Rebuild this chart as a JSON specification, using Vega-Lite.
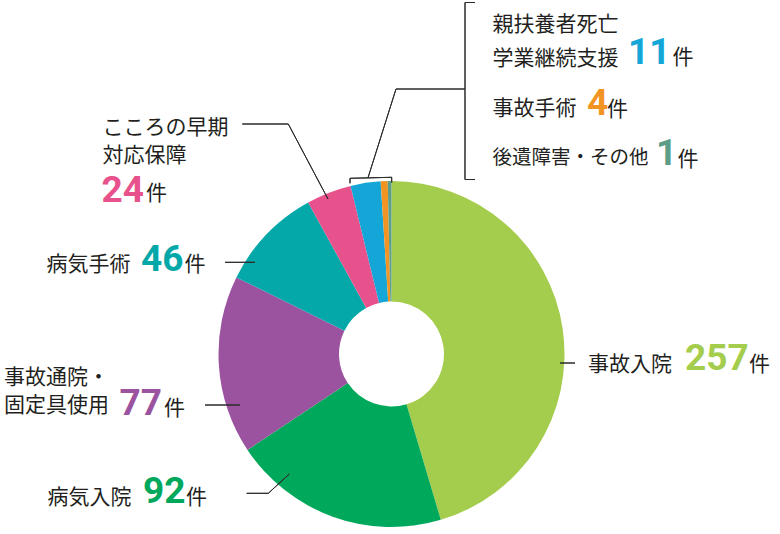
{
  "$schema": "https://vega.github.io/schema/vega-lite/v6.json",
  "autosize": {"type": "none"},
  "width": 777,
  "height": 360,
  "padding": {"left": 3, "top": 174, "right": 0, "bottom": 0},
  "background": "white",
  "config": {"view": {"stroke": null}},
  "data": {
    "values": [
      {"order": 1, "category": "事故入院", "name": "事故入院", "count": 257, "share": 45.4},
      {"order": 2, "category": "病気入院", "name": "病気入院", "count": 92, "share": 20.25},
      {"order": 3, "category": "事故通院・固定具使用", "name": "事故通院・\n固定具使用", "count": 77, "share": 16.65},
      {"order": 4, "category": "病気手術", "name": "病気手術", "count": 46, "share": 9.7},
      {"order": 5, "category": "こころの早期対応保障", "name": "こころの早期\n対応保障", "count": 24, "share": 4.2},
      {"order": 6, "category": "親扶養者死亡学業継続支援", "name": "親扶養者死亡\n学業継続支援", "count": 11, "share": 2.8},
      {"order": 7, "category": "事故手術", "name": "事故手術", "count": 4, "share": 0.65},
      {"order": 8, "category": "後遺障害・その他", "name": "後遺障害・その他", "count": 1, "share": 0.35}
    ]
  },
  "layer": [
    {
      "mark": {"type": "arc", "innerRadius": 52.5, "outerRadius": 173},
      "encoding": {
        "theta": {"field": "share", "type": "quantitative", "stack": true},
        "order": {"field": "order", "type": "quantitative"},
        "color": {
          "field": "category",
          "type": "nominal",
          "legend": null,
          "scale": {
            "domain": ["事故入院", "病気入院", "事故通院・固定具使用", "病気手術", "こころの早期対応保障", "親扶養者死亡学業継続支援", "事故手術", "後遺障害・その他"],
            "range": ["#a5cd4d", "#00a85b", "#9b53a0", "#05a8a9", "#e8528c", "#13a6d7", "#f29423", "#5c9e88"]
          }
        }
      }
    },
    {
      "mark": {
        "type": "arc",
        "filled": false,
        "stroke": "#2b2b2b",
        "strokeWidth": 1,
        "xOffset": {"expr": "[168.5,-144.8,-186.5,-166.5,-149.2,-41.5,-23.5,73.5][datum.order-1]"},
        "yOffset": {"expr": "[9,139.3,51,-91.7,-230,-175.7,-176.2,-351.5][datum.order-1]"},
        "theta": {"expr": "[1.5708,1.5708,1.5708,1.5708,1.5708,1.5468,0.3054,3.1416][datum.order-1]"},
        "theta2": {"expr": "[1.5708,1.5708,1.5708,1.5708,1.5708,1.5468,0.3054,3.1416][datum.order-1]"},
        "radius": {"expr": "[15,21.6,35,30,46,41.7,93.1,177][datum.order-1]"},
        "radius2": 0
      },
      "encoding": {}
    },
    {
      "transform": [{"filter": "indexof([2,5,6,7,8], datum.order) >= 0"}],
      "mark": {
        "type": "arc",
        "filled": false,
        "stroke": "#2b2b2b",
        "strokeWidth": 1,
        "xOffset": {"expr": "[0,-123.2,0,0,-103.2,-41.5,4.5,73.5][datum.order-1]"},
        "yOffset": {"expr": "[0,139.3,0,0,-230,-175.7,-265,-351.5][datum.order-1]"},
        "theta": {"expr": "[0,0.8275,0,0,2.6549,3.1416,1.5708,1.5708][datum.order-1]"},
        "theta2": {"expr": "[0,0.8275,0,0,2.6549,3.1416,1.5708,1.5708][datum.order-1]"},
        "radius": {"expr": "[0,28.5,0,0,84.9,5,69,10][datum.order-1]"},
        "radius2": 0
      },
      "encoding": {}
    },
    {
      "transform": [{"filter": "datum.order == 6 || datum.order == 8"}],
      "mark": {
        "type": "arc",
        "filled": false,
        "stroke": "#2b2b2b",
        "strokeWidth": 1,
        "xOffset": {"expr": "[0,0,0,0,0,0.2,0,73.5][datum.order-1]"},
        "yOffset": {"expr": "[0,0,0,0,0,-176.7,0,-174.5][datum.order-1]"},
        "theta": {"expr": "[0,0,0,0,0,3.1416,0,1.5708][datum.order-1]"},
        "theta2": {"expr": "[0,0,0,0,0,3.1416,0,1.5708][datum.order-1]"},
        "radius": {"expr": "[0,0,0,0,0,5.2,0,10][datum.order-1]"},
        "radius2": 0
      },
      "encoding": {}
    },
    {
      "mark": {
        "type": "text",
        "font": "Noto Sans CJK JP",
        "fontSize": {"expr": "datum.order == 8 ? 19.5 : 21"},
        "align": "left",
        "baseline": "alphabetic",
        "lineBreak": "\n",
        "lineHeight": {"expr": "datum.order == 6 ? 33.5 : 28.5"},
        "color": "#231f20",
        "dx": {"expr": "[196.5,-344,-387.5,-345,-289,101,101,101][datum.order-1]"},
        "dy": {"expr": "[16.5,149.5,29.5,-83.5,-220.5,-323,-239,-190.5][datum.order-1]"}
      },
      "encoding": {"text": {"field": "name", "type": "nominal"}}
    },
    {
      "mark": {
        "type": "text",
        "font": "Roboto",
        "fontWeight": "bold",
        "fontSize": 37,
        "align": "left",
        "baseline": "alphabetic",
        "dx": {"expr": "[293.5,-248.5,-272,-250.5,-290,236.5,195.5,264.5][datum.order-1]"},
        "dy": {"expr": "[15.5,149.3,61,-83.5,-152.5,-290.5,-239,-189][datum.order-1]"}
      },
      "encoding": {
        "text": {"field": "count", "type": "nominal"},
        "color": {"field": "category", "type": "nominal", "legend": null}
      }
    },
    {
      "mark": {
        "type": "text",
        "font": "Noto Sans CJK JP",
        "fontSize": 21,
        "align": "left",
        "baseline": "alphabetic",
        "color": "#231f20",
        "dx": {"expr": "[357.5,-205.5,-227.5,-207,-245.5,281,215.5,286][datum.order-1]"},
        "dy": {"expr": "[16.5,149.5,61,-83.5,-154,-290.5,-238.5,-188.5][datum.order-1]"}
      },
      "encoding": {"text": {"value": "件"}}
    }
  ]
}
